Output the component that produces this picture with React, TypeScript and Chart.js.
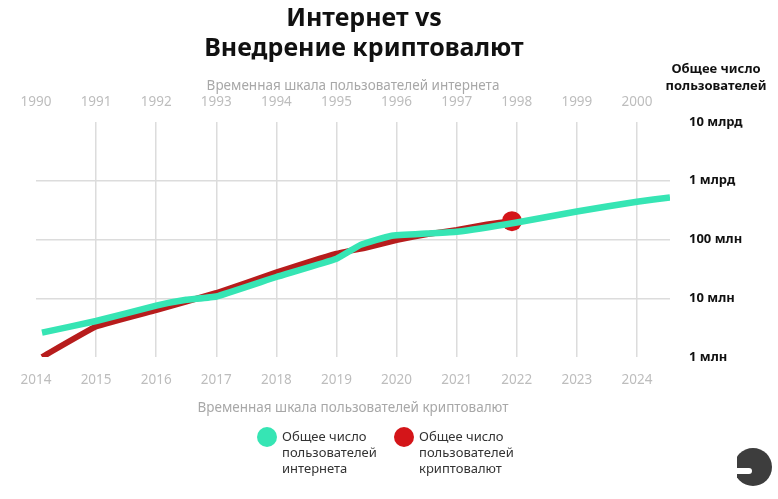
import React, { useEffect, useRef } from "react";
import { Chart, registerables } from "chart.js";

Chart.register(...registerables);

const FONT = "'Noto Sans', sans-serif";

// Bottom axis (crypto timeline) tick years
const cryptoYearTicks = [2014, 2015, 2016, 2017, 2018, 2019, 2020, 2021, 2022, 2023, 2024];
// Top axis (internet timeline) tick years
const internetYearTicks = [1990, 1991, 1992, 1993, 1994, 1995, 1996, 1997, 1998, 1999, 2000];
// Right axis ticks
const userTickValues = [1e6, 1e7, 1e8, 1e9, 1e10];
const userTickLabels = ["1 млн", "10 млн", "100 млн", "1 млрд", "10 млрд"];

// Internet users (positioned on the crypto timeline scale)
const internetX = [2014.1, 2015, 2016, 2016.5, 2017, 2018, 2019, 2019.4, 2019.9, 2020.5, 2021, 2022, 2023, 2024, 2024.55];
const internetUsers = [2.6e6, 4.1e6, 7.5e6, 9.4e6, 1.07e7, 2.3e7, 4.7e7, 8.1e7, 1.15e8, 1.26e8, 1.35e8, 1.95e8, 3.0e8, 4.4e8, 5.2e8];

// Crypto users
const cryptoX = [2014.1, 2015, 2016, 2017, 2018, 2019, 2019.5, 2020, 2020.5, 2021, 2021.5, 2021.92];
const cryptoUsers = [1.0e6, 3.3e6, 6.3e6, 1.23e7, 2.75e7, 5.75e7, 7.3e7, 9.8e7, 1.23e8, 1.45e8, 1.8e8, 2.05e8];

const TEAL = "#36e5b4";
const RED_LINE = "#b71c1c";
const RED_DOT = "#d41519";

const legendItems = [
  { color: TEAL, lines: ["Общее число", "пользователей", "интернета"] },
  { color: RED_DOT, lines: ["Общее число", "пользователей", "криптовалют"] },
];

const extrasPlugin = {
  id: "extras",
  afterDraw(chart: any) {
    const ctx = chart.ctx as CanvasRenderingContext2D;
    ctx.save();
    // Main title
    ctx.fillStyle = "#111";
    ctx.textAlign = "center";
    ctx.textBaseline = "middle";
    ctx.font = `bold 25px ${FONT}`;
    const tx = 364;
    ctx.fillText("Интернет vs", tx, 19);
    ctx.fillText("Внедрение криптовалют", tx, 49);

    // Right axis heading
    ctx.font = `bold 13px ${FONT}`;
    ctx.fillText("Общее число", 716, 69);
    ctx.fillText("пользователей", 716, 86);

    // Legend
    const lx = [267, 404];
    legendItems.forEach((item, i) => {
      ctx.beginPath();
      ctx.arc(lx[i], 437, 10, 0, Math.PI * 2);
      ctx.fillStyle = item.color;
      ctx.fill();
      ctx.fillStyle = "#333";
      ctx.font = `13px ${FONT}`;
      ctx.textAlign = "left";
      item.lines.forEach((t, j) => ctx.fillText(t, lx[i] + 15, 437 + j * 16));
    });

    // Logo
    const cx = 753, cy = 467, r = 19;
    ctx.save();
    ctx.beginPath();
    ctx.rect(cx - r + 3, cy - r - 2, 2 * r + 4, 2 * r + 4);
    ctx.clip();
    ctx.beginPath();
    ctx.arc(cx, cy, r, 0, Math.PI * 2);
    ctx.fillStyle = "#3d3d3d";
    ctx.fill();
    ctx.restore();
    ctx.fillStyle = "#ffffff";
    ctx.beginPath();
    ctx.moveTo(cx - r - 1, cy + 1);
    ctx.lineTo(cx - 4, cy + 1);
    ctx.arc(cx - 4, cy + 4, 3, -Math.PI / 2, Math.PI / 2);
    ctx.lineTo(cx - r - 1, cy + 7);
    ctx.closePath();
    ctx.fill();
    ctx.restore();
  },
};

export default function App() {
  const ref = useRef<HTMLCanvasElement | null>(null);

  useEffect(() => {
    document.body.style.margin = "0";
    if (!ref.current) return;
    const chart = new Chart(ref.current, {
      type: "line",
      data: {
        datasets: [
          {
            label: "Общее число пользователей интернета",
            data: internetX.map((x, i) => ({ x, y: internetUsers[i] })),
            borderColor: TEAL,
            backgroundColor: TEAL,
            borderWidth: 6.5,
            pointRadius: 0,
            tension: 0.1,
            order: 0,
            xAxisID: "x",
            yAxisID: "y",
          },
          {
            label: "Общее число пользователей криптовалют",
            data: cryptoX.map((x, i) => ({ x, y: cryptoUsers[i] })),
            borderColor: RED_LINE,
            backgroundColor: RED_DOT,
            borderWidth: 6,
            pointRadius: (c: any) => (c.dataIndex === cryptoX.length - 1 ? 10 : 0),
            pointBackgroundColor: RED_DOT,
            pointBorderWidth: 0,
            tension: 0.1,
            order: 1,
            xAxisID: "x",
            yAxisID: "y",
          },
        ],
      },
      options: {
        animation: false,
        responsive: false,
        layout: { padding: { top: 64, left: 36, right: 0, bottom: 83 } },
        plugins: { legend: { display: false }, tooltip: { enabled: false } },
        scales: {
          x: {
            type: "linear",
            position: "bottom",
            min: 2014,
            max: 2024.55,
            afterBuildTicks: (s: any) => {
              s.ticks = cryptoYearTicks.map((v) => ({ value: v }));
            },
            afterFit: (s: any) => {
              s.height = 59;
            },
            grid: {
              color: (c: any) => (c.tick && c.tick.value === 2014 ? "rgba(0,0,0,0)" : "#dcdcdc"),
              lineWidth: 1.5,
              drawTicks: false,
            },
            border: { display: false },
            ticks: {
              padding: 15,
              color: "#bdbdbd",
              font: { size: 13.5, family: FONT },
              maxRotation: 0,
              autoSkip: false,
              callback: (v: any) => String(v),
            },
            title: {
              display: true,
              text: "Временная шкала пользователей криптовалют",
              color: "#a8a8a8",
              font: { size: 13.5, family: FONT },
              padding: { top: 8, bottom: 0 },
            },
          },
          x2: {
            type: "linear",
            position: "top",
            min: 1990,
            max: 2000.55,
            afterBuildTicks: (s: any) => {
              s.ticks = internetYearTicks.map((v) => ({ value: v }));
            },
            afterFit: (s: any) => {
              s.height = 58;
            },
            grid: { display: false, drawTicks: false },
            border: { display: false },
            ticks: {
              padding: 12,
              color: "#bdbdbd",
              font: { size: 13.5, family: FONT },
              maxRotation: 0,
              autoSkip: false,
              callback: (v: any) => String(v),
            },
            title: {
              display: true,
              text: "Временная шкала пользователей интернета",
              color: "#a8a8a8",
              font: { size: 13.5, family: FONT },
              padding: { top: 14, bottom: 0 },
            },
          },
          y: {
            type: "logarithmic",
            position: "right",
            min: 1e6,
            max: 1e10,
            afterBuildTicks: (s: any) => {
              s.ticks = userTickValues.map((v) => ({ value: v }));
            },
            afterFit: (s: any) => {
              s.width = 108;
            },
            grid: {
              color: (c: any) =>
                c.tick && (c.tick.value === 1e6 || c.tick.value === 1e10) ? "rgba(0,0,0,0)" : "#dcdcdc",
              lineWidth: 1.5,
              drawTicks: false,
            },
            border: { display: false },
            ticks: {
              padding: 19,
              color: "#111",
              font: { size: 13, weight: "bold", family: FONT },
              callback: (v: any) => {
                const i = userTickValues.indexOf(Number(v));
                return i >= 0 ? userTickLabels[i] : "";
              },
            },
          },
        },
      } as any,
      plugins: [extrasPlugin],
    });
    return () => chart.destroy();
  }, []);

  return (
    <div style={{ width: 778, height: 499, background: "#fff" }}>
      <canvas ref={ref} width={778} height={499} />
    </div>
  );
}
